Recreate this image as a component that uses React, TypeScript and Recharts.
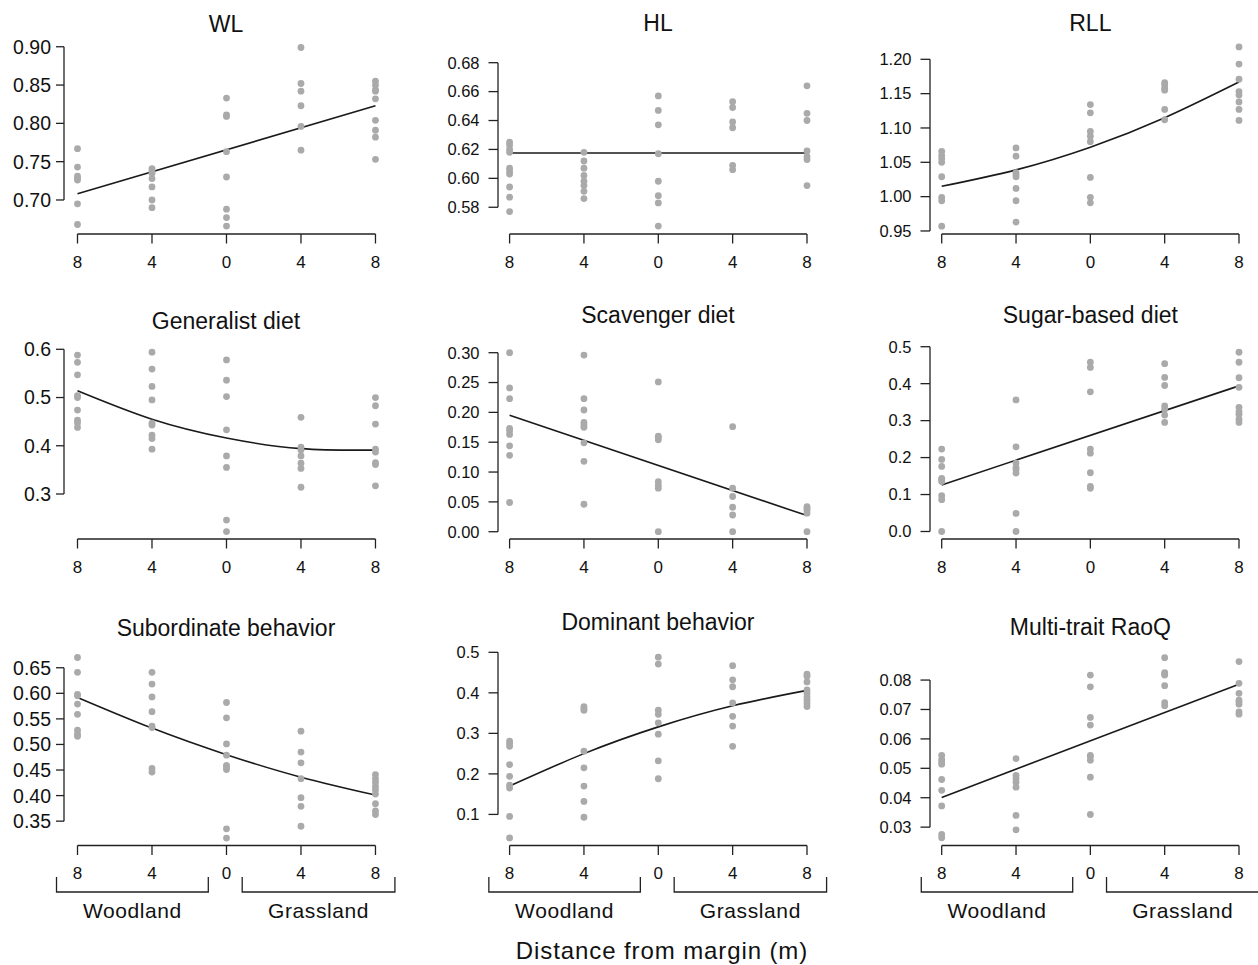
import { ComposedChart, Scatter, Line, XAxis, YAxis, ReferenceLine } from "recharts";

const FONT = '"Liberation Sans", Arial, Helvetica, sans-serif';
const AXIS = "#222";
const TXT = "#111";
const DOT = "#aaaaaa";

// distance from margin: woodland side negative, grassland side positive
const distances = [-8, -4, 0, 4, 8];
const lineEnds = [-8, 8];

// one list of values per distance
const wl = [
  [0.767, 0.743, 0.731, 0.728, 0.726, 0.695, 0.668],
  [0.741, 0.738, 0.735, 0.728, 0.717, 0.7, 0.69],
  [0.833, 0.811, 0.809, 0.763, 0.73, 0.688, 0.677, 0.666],
  [0.899, 0.852, 0.842, 0.823, 0.796, 0.765],
  [0.855, 0.85, 0.844, 0.842, 0.832, 0.804, 0.791, 0.782, 0.753],
];
const hl = [
  [0.625, 0.623, 0.62, 0.618, 0.607, 0.605, 0.603, 0.594, 0.587, 0.577],
  [0.618, 0.612, 0.607, 0.602, 0.598, 0.595, 0.591, 0.586],
  [0.657, 0.647, 0.637, 0.617, 0.598, 0.588, 0.583, 0.567],
  [0.653, 0.649, 0.639, 0.635, 0.609, 0.606],
  [0.664, 0.645, 0.64, 0.619, 0.615, 0.613, 0.595],
];
const rll = [
  [1.066, 1.06, 1.055, 1.05, 1.029, 0.999, 0.994, 0.957],
  [1.071, 1.059, 1.035, 1.032, 1.029, 1.012, 0.994, 0.963],
  [1.134, 1.122, 1.095, 1.088, 1.08, 1.028, 0.999, 0.991],
  [1.166, 1.163, 1.158, 1.155, 1.127, 1.112],
  [1.218, 1.193, 1.171, 1.153, 1.148, 1.138, 1.127, 1.111],
];
const generalist = [
  [0.588, 0.573, 0.547, 0.504, 0.5, 0.474, 0.453, 0.447, 0.438],
  [0.594, 0.559, 0.523, 0.495, 0.447, 0.443, 0.422, 0.415, 0.393],
  [0.578, 0.536, 0.502, 0.433, 0.379, 0.355, 0.246, 0.222],
  [0.459, 0.397, 0.391, 0.379, 0.364, 0.353, 0.314],
  [0.5, 0.483, 0.445, 0.393, 0.387, 0.365, 0.361, 0.317],
];
const scavenger = [
  [0.3, 0.241, 0.223, 0.173, 0.169, 0.163, 0.144, 0.128, 0.049],
  [0.296, 0.223, 0.204, 0.183, 0.179, 0.175, 0.149, 0.118, 0.046],
  [0.251, 0.16, 0.158, 0.154, 0.084, 0.078, 0.073, 0.0],
  [0.176, 0.073, 0.059, 0.041, 0.028, 0.0],
  [0.042, 0.039, 0.036, 0.031, 0.0],
];
const sugar = [
  [0.223, 0.195, 0.176, 0.144, 0.14, 0.135, 0.097, 0.086, 0.0],
  [0.356, 0.229, 0.185, 0.173, 0.167, 0.158, 0.049, 0.0],
  [0.458, 0.444, 0.378, 0.223, 0.212, 0.159, 0.122, 0.117],
  [0.454, 0.417, 0.395, 0.34, 0.331, 0.315, 0.295],
  [0.485, 0.458, 0.416, 0.39, 0.336, 0.324, 0.317, 0.304, 0.295],
];
const subordinate = [
  [0.67, 0.641, 0.598, 0.595, 0.579, 0.559, 0.528, 0.52, 0.516],
  [0.641, 0.618, 0.593, 0.564, 0.536, 0.533, 0.453, 0.446],
  [0.582, 0.552, 0.501, 0.479, 0.459, 0.456, 0.451, 0.335, 0.317],
  [0.526, 0.485, 0.464, 0.433, 0.396, 0.379, 0.34],
  [0.441, 0.433, 0.426, 0.418, 0.411, 0.403, 0.384, 0.37, 0.363],
];
const dominant = [
  [0.281, 0.275, 0.268, 0.223, 0.194, 0.172, 0.165, 0.095, 0.042],
  [0.366, 0.361, 0.357, 0.256, 0.215, 0.17, 0.132, 0.093],
  [0.488, 0.471, 0.357, 0.347, 0.326, 0.298, 0.232, 0.188],
  [0.467, 0.432, 0.415, 0.375, 0.342, 0.318, 0.268],
  [0.446, 0.441, 0.427, 0.407, 0.399, 0.39, 0.382, 0.374, 0.366],
];
const raoq = [
  [0.0544, 0.053, 0.0522, 0.0514, 0.0462, 0.0425, 0.0372, 0.0275, 0.0264],
  [0.0533, 0.0476, 0.0465, 0.0453, 0.0436, 0.034, 0.0291],
  [0.0817, 0.0777, 0.0673, 0.0647, 0.0544, 0.0539, 0.0527, 0.047, 0.0343],
  [0.0876, 0.0825, 0.082, 0.0817, 0.0781, 0.0723, 0.0713],
  [0.0863, 0.0789, 0.0755, 0.0732, 0.0726, 0.0718, 0.0692, 0.0684],
];

// fitted lines: two values = straight line at lineEnds, five = curve at distances
const wlFit = [0.708, 0.823];
const hlFit = [0.6175, 0.6175];
const rllFit = [1.015, 1.039, 1.072, 1.115, 1.167];
const generalistFit = [0.514, 0.455, 0.416, 0.394, 0.391];
const scavengerFit = [0.195, 0.027];
const sugarFit = [0.126, 0.394];
const subordinateFit = [0.592, 0.532, 0.48, 0.436, 0.401];
const dominantFit = [0.17, 0.25, 0.316, 0.368, 0.406];
const raoqFit = [0.0401, 0.0786];

const tickSteps = (from: number, to: number, step: number) => {
  const out: number[] = [];
  for (let v = from; v <= to + step / 2; v += step) out.push(+v.toFixed(4));
  return out;
};

// plot regions (R style, axes drawn at the region edges)
const XHI = 8.64;
const COLS = [
  { left: 63.5, lo: -8.725, w: 323.4 },
  { left: 497.7, lo: -8.624, w: 320.9 },
  { left: 930, lo: -8.63, w: 320.9 },
];
const ROWS = [
  { top: 40, h: 194 },
  { top: 345, h: 194 },
  { top: 650, h: 195.5 },
];

const xpix = (col: number, v: number) => {
  const c = COLS[col];
  return c.left + ((v - c.lo) / (XHI - c.lo)) * c.w;
};

type PanelCfg = {
  title: string;
  titleY: number;
  col: number;
  row: number;
  groups: number[][];
  fit: number[];
  domain: [number, number];
  ticks: number[];
  digits: number;
};

const panels: PanelCfg[] = [
  { title: "WL", titleY: 24, col: 0, row: 0, groups: wl, fit: wlFit, domain: [0.6556, 0.9088], ticks: tickSteps(0.7, 0.9, 0.05), digits: 2 },
  { title: "HL", titleY: 23, col: 1, row: 0, groups: hl, fit: hlFit, domain: [0.5615, 0.6957], ticks: tickSteps(0.58, 0.68, 0.02), digits: 2 },
  { title: "RLL", titleY: 23, col: 2, row: 0, groups: rll, fit: rllFit, domain: [0.9456, 1.2281], ticks: tickSteps(0.95, 1.2, 0.05), digits: 2 },
  { title: "Generalist diet", titleY: 321, col: 0, row: 1, groups: generalist, fit: generalistFit, domain: [0.2067, 0.6089], ticks: tickSteps(0.3, 0.6, 0.1), digits: 1 },
  { title: "Scavenger diet", titleY: 315, col: 1, row: 1, groups: scavenger, fit: scavengerFit, domain: [-0.0122, 0.3129], ticks: tickSteps(0, 0.3, 0.05), digits: 2 },
  { title: "Sugar-based diet", titleY: 315, col: 2, row: 1, groups: sugar, fit: sugarFit, domain: [-0.0203, 0.5046], ticks: tickSteps(0, 0.5, 0.1), digits: 1 },
  { title: "Subordinate behavior", titleY: 628, col: 0, row: 2, groups: subordinate, fit: subordinateFit, domain: [0.3024, 0.6847], ticks: tickSteps(0.35, 0.65, 0.05), digits: 2 },
  { title: "Dominant behavior", titleY: 622, col: 1, row: 2, groups: dominant, fit: dominantFit, domain: [0.0233, 0.5057], ticks: tickSteps(0.1, 0.5, 0.1), digits: 1 },
  { title: "Multi-trait RaoQ", titleY: 627, col: 2, row: 2, groups: raoq, fit: raoqFit, domain: [0.02376, 0.09022], ticks: tickSteps(0.03, 0.08, 0.01), digits: 2 },
];

const dot = (p: any) => <circle cx={p.cx} cy={p.cy} r={3.4} fill={DOT} />;

const YW = 64;
const MT = 10;
const MR = 6;
const XH = 50;

function Panel({ cfg }: { cfg: PanelCfg }) {
  const c = COLS[cfg.col];
  const r = ROWS[cfg.row];
  const points = distances.flatMap((d, i) => cfg.groups[i].map((v) => ({ x: d, y: v })));
  const fitX = cfg.fit.length === 2 ? lineEnds : distances;
  const fitData = cfg.fit.map((v, i) => ({ x: fitX[i], y: v }));
  const lastTick = cfg.ticks[cfg.ticks.length - 1];
  const leftCol = cfg.col === 0;
  return (
    <div style={{ position: "absolute", left: c.left - YW, top: r.top - MT }}>
      <ComposedChart
        width={c.w + YW + MR}
        height={r.h + MT + XH}
        margin={{ top: MT, right: MR, bottom: 0, left: 0 }}
      >
        <XAxis
          type="number"
          dataKey="x"
          domain={[c.lo, XHI]}
          allowDataOverflow
          ticks={distances}
          interval={0}
          tickFormatter={(v: number) => String(Math.abs(v))}
          axisLine={false}
          tickLine={{ stroke: AXIS, strokeWidth: 1.3 }}
          tickSize={9.5}
          tickMargin={12}
          height={XH}
          tick={{ fontSize: 17, fill: TXT, fontFamily: FONT }}
        />
        <YAxis
          type="number"
          dataKey="y"
          domain={cfg.domain}
          allowDataOverflow
          ticks={cfg.ticks}
          interval={0}
          tickFormatter={(v: number) => v.toFixed(cfg.digits)}
          axisLine={false}
          tickLine={{ stroke: AXIS, strokeWidth: 1.3 }}
          tickSize={leftCol ? 8 : 9.5}
          tickMargin={leftCol ? 5 : 9}
          width={YW}
          tick={{ fontSize: leftCol ? 19.5 : 16.5, fill: TXT, fontFamily: FONT }}
        />
        <ReferenceLine
          segment={[{ x: c.lo, y: cfg.ticks[0] }, { x: c.lo, y: lastTick }]}
          stroke={AXIS}
          strokeWidth={1.3}
          ifOverflow="visible"
        />
        <ReferenceLine
          segment={[{ x: -8, y: cfg.domain[0] }, { x: 8, y: cfg.domain[0] }]}
          stroke={AXIS}
          strokeWidth={1.3}
          ifOverflow="visible"
        />
        <Scatter data={points} shape={dot} isAnimationActive={false} />
        <Line
          data={fitData}
          dataKey="y"
          type={cfg.fit.length === 2 ? "linear" : "natural"}
          stroke="#1a1a1a"
          strokeWidth={1.6}
          dot={false}
          activeDot={false}
          isAnimationActive={false}
        />
      </ComposedChart>
    </div>
  );
}

// woodland / grassland brackets under the bottom row
const brackets = [
  { name: "Woodland", from: -9.1, to: -0.95 },
  { name: "Grassland", from: 0.87, to: 9.07 },
];

export default function App() {
  return (
    <div
      style={{
        position: "absolute",
        left: 0,
        top: 0,
        width: 1258,
        height: 965,
        background: "#fff",
        fontFamily: FONT,
      }}
    >
      {panels.map((p) => (
        <Panel key={p.title} cfg={p} />
      ))}
      <svg
        width={1258}
        height={965}
        style={{ position: "absolute", left: 0, top: 0, pointerEvents: "none" }}
      >
        {panels.map((p) => (
          <text
            key={p.title}
            x={xpix(p.col, 0)}
            y={p.titleY}
            textAnchor="middle"
            dominantBaseline="central"
            fontSize={23}
            fill={TXT}
            fontFamily={FONT}
          >
            {p.title}
          </text>
        ))}
        {[0, 1, 2].map((col) =>
          brackets.map((b) => {
            const x1 = xpix(col, b.from);
            const x2 = xpix(col, b.to);
            return (
              <g key={col + b.name}>
                <path
                  d={`M${x1},877 L${x1},892 L${x2},892 L${x2},877`}
                  fill="none"
                  stroke={AXIS}
                  strokeWidth={1.3}
                />
                <text
                  x={(x1 + x2) / 2}
                  y={910}
                  textAnchor="middle"
                  dominantBaseline="central"
                  fontSize={21}
                  letterSpacing={0.6}
                  fill={TXT}
                  fontFamily={FONT}
                >
                  {b.name}
                </text>
              </g>
            );
          })
        )}
        <text
          x={662}
          y={950}
          textAnchor="middle"
          dominantBaseline="central"
          fontSize={24}
          letterSpacing={0.9}
          fill={TXT}
          fontFamily={FONT}
        >
          Distance from margin (m)
        </text>
      </svg>
    </div>
  );
}
